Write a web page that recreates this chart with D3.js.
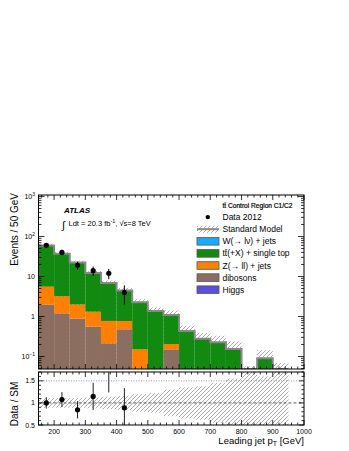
<!DOCTYPE html>
<html>
<head>
<meta charset="utf-8">
<script src="https://cdn.jsdelivr.net/npm/d3@7"></script>
<style>
  body { margin: 0; background: #fff; }
  svg { display: block; font-family: "Liberation Sans", Arial, sans-serif; }
</style>
</head>
<body>
<svg id="chart" width="349" height="451"></svg>
<script>
// leading jet pT bins, 50 GeV wide (low edges)
var binLow = [150, 200, 250, 300, 350, 400, 450, 500, 550, 600, 650, 700, 750, 800, 850, 900];
var binWidth = 50;

// data 2012 (events / bin)
var dataCounts = [60, 40, 19, 14, 12, 4, 0, 0, 0, 0, 0, 0, 0, 0, 0, 0];

// MC backgrounds, stacked bottom -> top
var higgs    = [0, 0, 0, 0, 0, 0, 0, 0, 0, 0, 0, 0, 0, 0, 0, 0];
var dibosons = [1.97, 1.2, 0.88, 0.556, 0.214, 0.479, 0, 0, 0.151, 0, 0, 0, 0, 0, 0, 0];
var zjets    = [3.6, 2.0, 1.12, 0.76, 0.56, 0.29, 0.151, 0, 0.054, 0, 0, 0, 0, 0, 0, 0];
var ttbar    = [54.1, 33.8, 20.4, 10.8, 6.08, 3.69, 2.09, 1.32, 0.865, 0.434, 0.279, 0.227, 0.154, 0.03, 0.09, 0.035];
var wjets    = [0.3, 0.2, 0.1, 0.08, 0.05, 0.04, 0.03, 0.05, 0.02, 0, 0, 0, 0, 0, 0, 0];

// relative uncertainty on the SM total
var smRelErr = [0.11, 0.11, 0.11, 0.12, 0.14, 0.16, 0.2, 0.22, 0.3, 0.35, 0.38, 0.45, 0.55, 0.9, 0.6, 0.95];

var xTickLabels = [200, 300, 400, 500, 600, 700, 800, 900, 1000];
var yDecades = [0.1, 1, 10, 100, 1000];
var ratioTickLabels = [0.5, 1, 1.5];

var colors = {
  higgs: "#5a4fdb", dibosons: "#8c6e60", zjets: "#ff8000",
  ttbar: "#128a12", wjets: "#19aaff"
};

var svg = d3.select("#chart");

var left = 38.5, right = 304;
var mainTop = 195, mainBot = 369;
var ratTop = 372, ratBot = 425;

var x = d3.scaleLinear().domain([150, 1000]).range([left, right]);
var y = d3.scaleLog().domain([0.0487, 1090]).range([mainBot, mainTop]).clamp(true);
var yr = d3.scaleLinear().domain([0.5, 1.7]).range([ratBot, ratTop]).clamp(true);

// table for stacking
var table = binLow.map(function(b, i) {
  return { lo: b, higgs: higgs[i], dibosons: dibosons[i], zjets: zjets[i], ttbar: ttbar[i], wjets: wjets[i] };
});
var keys = ["higgs", "dibosons", "zjets", "ttbar", "wjets"];
var series = d3.stack().keys(keys)(table);
var smTotal = table.map(function(d) { return d3.sum(keys, function(k) { return d[k]; }); });

var defs = svg.append("defs");
var pat = defs.append("pattern").attr("id", "hatch")
  .attr("patternUnits", "userSpaceOnUse").attr("width", 4).attr("height", 4);
pat.append("path").attr("d", "M-1,1 L1,-1 M0,4 L4,0 M3,5 L5,3")
  .attr("stroke", "#8a8a8a").attr("stroke-width", 0.7);
defs.append("clipPath").attr("id", "clipMain").append("rect")
  .attr("x", left).attr("y", mainTop).attr("width", right - left).attr("height", mainBot - mainTop);
defs.append("clipPath").attr("id", "clipRat").append("rect")
  .attr("x", left).attr("y", ratTop).attr("width", right - left).attr("height", ratBot - ratTop);

var gMain = svg.append("g").attr("clip-path", "url(#clipMain)");

// SM uncertainty band (under the stack)
gMain.selectAll(".band").data(binLow).enter().append("rect")
  .attr("x", function(b) { return x(b); })
  .attr("width", function(b) { return x(b + binWidth) - x(b); })
  .attr("y", function(b, i) { return y(smTotal[i] * (1 + smRelErr[i])); })
  .attr("height", function(b, i) { return mainBot - y(smTotal[i] * (1 + smRelErr[i])); })
  .attr("fill", "url(#hatch)");

// stacked backgrounds
series.forEach(function(s) {
  gMain.selectAll(".s-" + s.key).data(s).enter().append("rect")
    .filter(function(d) { return d[1] - d[0] > 0; })
    .attr("x", function(d) { return x(d.data.lo); })
    .attr("width", function(d) { return x(d.data.lo + binWidth) - x(d.data.lo); })
    .attr("y", function(d) { return y(d[1]); })
    .attr("height", function(d) { return y(Math.max(d[0], 1e-3)) - y(d[1]); })
    .attr("fill", colors[s.key]);
});

// SM total outline
var stepPts = [];
binLow.forEach(function(b, i) {
  stepPts.push([b, smTotal[i]]);
  stepPts.push([b + binWidth, smTotal[i]]);
});
gMain.append("path")
  .attr("d", d3.line().x(function(p) { return x(p[0]); }).y(function(p) { return y(Math.max(p[1], 1e-3)); })(stepPts))
  .attr("fill", "none").attr("stroke", "#888").attr("stroke-width", 2);

// data points
var dataPts = binLow.map(function(b, i) { return { c: b + binWidth / 2, n: dataCounts[i], sm: smTotal[i] }; })
  .filter(function(d) { return d.n > 0; });
gMain.selectAll(".eb").data(dataPts).enter().append("line")
  .attr("x1", function(d) { return x(d.c); }).attr("x2", function(d) { return x(d.c); })
  .attr("y1", function(d) { return y(d.n + Math.sqrt(d.n)); })
  .attr("y2", function(d) { return y(Math.max(d.n - Math.sqrt(d.n), 1e-3)); })
  .attr("stroke", "#000").attr("stroke-width", 1);
gMain.selectAll(".pt").data(dataPts).enter().append("circle")
  .attr("cx", function(d) { return x(d.c); }).attr("cy", function(d) { return y(d.n); })
  .attr("r", 2.6).attr("fill", "#000");

// ratio panel
var gRat = svg.append("g").attr("clip-path", "url(#clipRat)");
gRat.selectAll(".rband").data(binLow).enter().append("rect")
  .attr("x", function(b) { return x(b); })
  .attr("width", function(b) { return x(b + binWidth) - x(b); })
  .attr("y", function(b, i) { return yr(1 + smRelErr[i]); })
  .attr("height", function(b, i) { return yr(1 - smRelErr[i]) - yr(1 + smRelErr[i]); })
  .attr("fill", "url(#hatch)");
gRat.append("line").attr("x1", left).attr("x2", right).attr("y1", yr(1.5)).attr("y2", yr(1.5))
  .attr("stroke", "#888").attr("stroke-width", 0.8).attr("stroke-dasharray", "1,1.5");
gRat.append("line").attr("x1", left).attr("x2", right).attr("y1", yr(1)).attr("y2", yr(1))
  .attr("stroke", "#333").attr("stroke-width", 0.8).attr("stroke-dasharray", "3,2");
gRat.selectAll(".reb").data(dataPts).enter().append("line")
  .attr("x1", function(d) { return x(d.c); }).attr("x2", function(d) { return x(d.c); })
  .attr("y1", function(d) { return yr((d.n + Math.sqrt(d.n)) / d.sm); })
  .attr("y2", function(d) { return yr((d.n - Math.sqrt(d.n)) / d.sm); })
  .attr("stroke", "#222").attr("stroke-width", 1);
gRat.selectAll(".rpt").data(dataPts.filter(function(d) { return d.n / d.sm <= 1.7; })).enter().append("circle")
  .attr("cx", function(d) { return x(d.c); }).attr("cy", function(d) { return yr(d.n / d.sm); })
  .attr("r", 2.6).attr("fill", "#000");

// frames
[[mainTop, mainBot], [ratTop, ratBot]].forEach(function(f) {
  svg.append("rect").attr("x", left).attr("y", f[0]).attr("width", right - left).attr("height", f[1] - f[0])
    .attr("fill", "none").attr("stroke", "#000").attr("stroke-width", 1);
});

// ticks
var tk = svg.append("g").attr("stroke", "#000").attr("stroke-width", 0.8);
var xMinor = d3.range(160, 1001, 20);
[[mainTop, mainBot], [ratTop, ratBot]].forEach(function(f) {
  xMinor.forEach(function(v) {
    var len = (v % 100 === 0) ? 5 : 2.5;
    tk.append("line").attr("x1", x(v)).attr("x2", x(v)).attr("y1", f[1]).attr("y2", f[1] - len);
    tk.append("line").attr("x1", x(v)).attr("x2", x(v)).attr("y1", f[0]).attr("y2", f[0] + len);
  });
});
var yMinor = [];
[0.01, 0.1, 1, 10, 100, 1000].forEach(function(dec) {
  d3.range(1, 10).forEach(function(m) { yMinor.push(dec * m); });
});
yMinor.filter(function(v) { return v >= 0.0487 && v <= 1090; }).forEach(function(v) {
  var major = Math.abs(Math.log10(v) - Math.round(Math.log10(v))) < 1e-9;
  var len = major ? 6 : 3;
  tk.append("line").attr("x1", left).attr("x2", left + len).attr("y1", y(v)).attr("y2", y(v));
  tk.append("line").attr("x1", right).attr("x2", right - len).attr("y1", y(v)).attr("y2", y(v));
});
d3.range(0.5, 1.71, 0.1).forEach(function(v) {
  var major = Math.abs(v * 2 - Math.round(v * 2)) < 1e-6;
  var len = major ? 5 : 2.5;
  tk.append("line").attr("x1", left).attr("x2", left + len).attr("y1", yr(v)).attr("y2", yr(v));
  tk.append("line").attr("x1", right).attr("x2", right - len).attr("y1", yr(v)).attr("y2", yr(v));
});

// tick labels
var lab = svg.append("g").attr("fill", "#000").attr("font-size", 7);
yDecades.forEach(function(v) {
  var p = Math.round(Math.log10(v));
  var t = lab.append("text").attr("x", 35).attr("y", y(v) + 2.5).attr("text-anchor", "end");
  if (p === 0) { t.text("1"); }
  else if (p === 1) { t.text("10"); }
  else {
    t.append("tspan").text("10");
    t.append("tspan").attr("dy", -3).attr("font-size", 5).text(p < 0 ? "\u2212" + (-p) : p);
  }
});
ratioTickLabels.forEach(function(v) {
  lab.append("text").attr("x", 35).attr("y", yr(v) + 2.5).attr("text-anchor", "end").text(v);
});
xTickLabels.forEach(function(v) {
  lab.append("text").attr("x", x(v)).attr("y", 433.5).attr("text-anchor", "middle").text(v);
});

// axis titles
svg.append("text").attr("transform", "translate(17.5,193) rotate(-90)")
  .attr("text-anchor", "end").attr("font-size", 10).text("Events / 50 GeV");
svg.append("text").attr("transform", "translate(17.5,404) rotate(-90)")
  .attr("text-anchor", "middle").attr("font-size", 10).text("Data / SM");
var xt = svg.append("text").attr("x", right).attr("y", 443.5).attr("text-anchor", "end").attr("font-size", 9.5);
xt.append("tspan").text("Leading jet p");
xt.append("tspan").attr("dy", 2.5).attr("font-size", 7).text("T");
xt.append("tspan").attr("dy", -2.5).text(" [GeV]");

// ATLAS label
svg.append("text").attr("x", 64).attr("y", 212.5).attr("font-size", 8)
  .attr("font-weight", "bold").attr("font-style", "italic").text("ATLAS");
svg.append("text").attr("x", 62).attr("y", 229).attr("font-size", 11).text("\u222B");
var lumi = svg.append("text").attr("x", 68.5).attr("y", 226).attr("font-size", 7.5);
lumi.append("tspan").text("Ldt = 20.3 fb");
lumi.append("tspan").attr("dy", -3).attr("font-size", 5.5).text("-1");
lumi.append("tspan").attr("dy", 3).text(", \u221As=8 TeV");

// legend
var legItems = [
  { type: "title", label: "t\u0074\u0304 Control Region C1/C2" },
  { type: "data", label: "Data 2012" },
  { type: "sm", label: "Standard Model" },
  { type: "box", key: "wjets", label: "W(\u2192 l\u03BD) + jets" },
  { type: "box", key: "ttbar", label: "t\u0074\u0304(+X) + single top" },
  { type: "box", key: "zjets", label: "Z(\u2192 ll) + jets" },
  { type: "box", key: "dibosons", label: "dibosons" },
  { type: "box", key: "higgs", label: "Higgs" }
];
var leg = svg.append("g");
legItems.forEach(function(it, i) {
  var cy = 205 + i * 12.1;
  if (it.type === "data") {
    leg.append("circle").attr("cx", 207.8).attr("cy", cy).attr("r", 2.2).attr("fill", "#000");
  } else if (it.type === "sm") {
    leg.append("rect").attr("x", 197).attr("y", cy - 3.5).attr("width", 22).attr("height", 7).attr("fill", "url(#hatch)");
    leg.append("line").attr("x1", 197).attr("x2", 219).attr("y1", cy).attr("y2", cy)
      .attr("stroke", "#888").attr("stroke-width", 2);
  } else if (it.type === "box") {
    leg.append("rect").attr("x", 197).attr("y", cy - 3.8).attr("width", 22).attr("height", 7.6)
      .attr("fill", colors[it.key]).attr("stroke", "#555").attr("stroke-width", 0.8);
  }
  var isTitle = it.type === "title";
  leg.append("text").attr("x", 222.5).attr("y", cy + (isTitle ? 2.6 : 3))
    .attr("font-size", isTitle ? 6.6 : 8.5)
    .attr("stroke", isTitle ? "#000" : "none").attr("stroke-width", 0.2)
    .text(it.label);
});
</script>
</body>
</html>
